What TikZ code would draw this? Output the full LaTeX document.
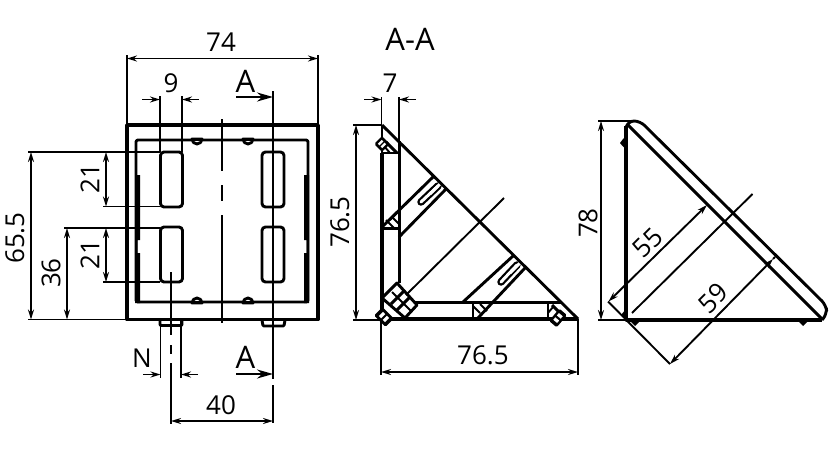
\documentclass[tikz,border=0pt]{standalone}
\usepackage{fontspec}
\setmainfont{Open Sans}
\usetikzlibrary{arrows.meta}
\tikzset{
  x=1pt,y=-1pt,
  thin line/.style={line width=1.9pt,line cap=butt,black},
  med line/.style={line width=2.9pt,line join=round,black},
  heavy line/.style={line width=3.8pt,line join=round,black},
  dimline/.style={thin line,{Stealth[length=10pt,width=6pt]}-{Stealth[length=10pt,width=6pt]}},
  outarrow/.style={thin line,-{Stealth[length=10pt,width=6pt]}},
  secarrow/.style={line width=2pt,-{Stealth[length=16pt,width=9pt]}},
  lbl/.style={inner sep=0pt,font=\fontsize{26}{26}\selectfont},
  biglbl/.style={inner sep=0pt,font=\fontsize{31}{31}\selectfont},
}
\newcommand{\myscrew}[5]{%
  \begin{scope}[shift={(#1,#2)},rotate=#3]
    \fill[black,rounded corners=1.5pt] (-#4,-#5) rectangle (#4,#5);
    \fill[white] (-0.55*#4,-0.5*#5) rectangle (-0.15*#4,0.5*#5);
    \fill[white] (0.15*#4,-0.5*#5) rectangle (0.55*#4,0.5*#5);
  \end{scope}}
\begin{document}
\begin{tikzpicture}
\useasboundingbox (0,0) rectangle (830,472);
\fill[white] (0,0) rectangle (830,472);

% --- front view ---
\draw[heavy line] (127,319.5) -- (127,125) -- (318,125) -- (318,319.5) -- cycle;
\draw[med line,rounded corners=2pt] (136,302) -- (136,140) -- (308,140) -- (308,302) -- cycle;
\foreach \xa in {160.5,262} {
  \foreach \ya in {152,227} {
    \draw[med line,rounded corners=3.5pt] (\xa,\ya) rectangle (\xa+22,\ya+55);
  }
}
% side stiffeners
\fill[black] (135,175) -- (140,175) -- (140,240) -- (137.5,240) -- (137.5,253) -- (140,253) -- (140,303) -- (135,303) -- cycle;
\fill[black] (309,175) -- (304,175) -- (304,240) -- (306.5,240) -- (306.5,253) -- (304,253) -- (304,303) -- (309,303) -- cycle;
% small holes
\foreach \xa in {197,248} {
  \draw[med line,fill=white] (\xa-5,139) arc[start angle=180,end angle=0,x radius=5,y radius=5] -- cycle;
  \draw[med line,fill=white] (\xa-5,303) arc[start angle=180,end angle=360,x radius=5,y radius=5] -- cycle;
}
\draw[med line] (136,140) -- (308,140);
\draw[med line] (136,302) -- (308,302);
% bottom bumps
\draw[med line,rounded corners=1pt] (160,320) -- (160,325.5) -- (182,325.5) -- (182,320);
\draw[med line,rounded corners=1pt] (262,320) -- (263,326) -- (284,326) -- (285,320);
% centre line
\draw[thin line] (222,119) -- (222,171);
\draw[thin line] (222,185) -- (222,201);
\draw[thin line] (222,215) -- (222,323);
% section line
\draw[thin line] (273,91) -- (273,379);
\draw[thin line] (273,385) -- (273,423);
\draw[secarrow] (236,97) -- (273,97);
\draw[secarrow] (236,374) -- (273,374);
\node[biglbl] (lblA1) at (245.5,81) {A};
\node[biglbl] (lblA2) at (245.5,357) {A};

% dimension 74
\draw[thin line] (127,55) -- (127,125);
\draw[thin line] (318,55) -- (318,125);
\draw[dimline] (127,58.5) -- (318,58.5);
\node[lbl] (d74) at (221,42) {74};
% dimension 9
\draw[thin line] (160,96) -- (160,152);
\draw[thin line] (182,96) -- (182,152);
\draw[outarrow] (142,99.5) -- (160,99.5);
\draw[outarrow] (199,99.5) -- (182,99.5);
\node[lbl] (d9) at (171,83) {9};
% dimension 65.5
\draw[thin line] (28,152) -- (160,152);
\draw[thin line] (28,319.5) -- (127,319.5);
\draw[dimline] (31,152) -- (31,319.5);
\node[lbl,rotate=90] (d655) at (15,238) {65.5};
% dimension 36
\draw[thin line] (64,228) -- (160,228);
\draw[dimline] (67,228) -- (67,319.5);
\node[lbl,rotate=90] (d36) at (51,273) {36};
% dimension 21
\draw[thin line] (103,206.5) -- (160,206.5);
\draw[dimline] (106,152) -- (106,206.5);
\node[lbl,rotate=90] (d21a) at (90,179) {21};
\draw[thin line] (103,282) -- (160,282);
\draw[dimline] (106,228) -- (106,282);
\node[lbl,rotate=90] (d21b) at (90,255) {21};
% dimension N, 40
\draw[thin line] (160.5,320) -- (160.5,378);
\draw[thin line] (181,320) -- (181,378);
\draw[thin line] (171,272) -- (171,335);
\draw[thin line] (171,345) -- (171,354);
\draw[thin line] (171,363) -- (171,424);
\draw[outarrow] (143,374.5) -- (160.5,374.5);
\draw[outarrow] (198,374.5) -- (181,374.5);
\node[lbl] (dN) at (142,358) {N};
\draw[dimline] (171,421) -- (273,421);
\node[lbl] (d40) at (221,405) {40};

% --- section view ---
\node[biglbl] (secA) at (410,39) {A-A};
\draw[heavy line] (382,153) -- (382,319) -- (578,319);
\draw[thin line] (382,125) -- (382,153);
\draw[med line,line width=3pt] (399,141) -- (399,283);
\draw[med line,line width=3pt] (408,302) -- (561,302);
\draw[med line] (382,153) -- (399,153);
\draw[med line] (382,228.5) -- (399,228.5);
\draw[med line] (473,302) -- (473,319);
\draw[med line] (548,302) -- (548,319);
% ribs
\draw[med line] (434,176) -- (382,227);
\draw[med line] (446,189) -- (399,237);
\draw[med line] (513,256) -- (463,302);
\draw[med line] (525,268) -- (477,319);
% slots
\draw[black,line width=7.5pt,line cap=round] (421,202) -- (438,186);
\draw[white,line width=3pt,line cap=round] (421,202) -- (438,186);
\draw[white,line width=3pt] (430,194) -- (442,182);
\draw[black,line width=7.5pt,line cap=round] (501,282) -- (517,265);
\draw[white,line width=3pt,line cap=round] (501,282) -- (517,265);
\draw[white,line width=3pt] (510,273) -- (522,261);
\draw[med line] (382,125) -- (578,319);
% rib feet
\draw[thin line] (399,211) -- (390,220);
\draw[thin line] (392,217) -- (399,224);
\draw[thin line] (386,220) -- (394,228);
\draw[thin line] (473,306) -- (480,313);
\draw[thin line] (480,304) -- (487,311);
% corner block
\draw[med line,fill=white] (397,283) -- (382,298) -- (405,318) -- (417,305) -- cycle;
\draw[thin line] (392,292) -- (411,311);
\draw[med line] (391,304) -- (404,291);
\draw[med line] (397,310) -- (410,297);
\draw[thin line] (406,295) -- (504,198);
\draw[heavy line] (382,298) -- (382,319) -- (420,319);
% screw triangles
\draw[med line] (386,142) -- (397,153);
\draw[thin line] (390,153) -- (384,146);
\draw[med line] (552,305) -- (561,314);
\draw[thin line] (548,313) -- (553,307);
\myscrew{382}{144}{-45}{5.5}{5.5}
\myscrew{384}{317}{-45}{8}{6}
\myscrew{558}{318}{50}{8}{5}

% section dimensions
\draw[thin line] (381.5,97) -- (381.5,125);
\draw[thin line] (399,97) -- (399,141);
\draw[outarrow] (364,99.5) -- (381.5,99.5);
\draw[outarrow] (416,99.5) -- (399,99.5);
\node[lbl] (d7) at (390,83) {7};
\draw[thin line] (353,125) -- (382,125);
\draw[thin line] (353,320) -- (382,320);
\draw[dimline] (356,125) -- (356,320);
\node[lbl,rotate=90] (d765v) at (340,222) {76.5};
\draw[thin line] (381,319) -- (381,375);
\draw[thin line] (578,319) -- (578,375);
\draw[dimline] (381,372) -- (578,372);
\node[lbl] (d765h) at (483,355) {76.5};

% --- side view ---
\draw[med line,rounded corners=6pt] (626,128) -- (628,121) -- (640,121) -- (826,305) -- (827,314) -- (822,320);
\draw[med line] (627,124) -- (822,319);
\draw[heavy line] (626,126) -- (626,320) -- (822,320);
% bumps
\fill[black] (623,139) -- (626,136) -- (626,149) -- (622.5,146) -- (620,143) -- cycle;
\fill[black] (626,309) -- (621,315) -- (626,320) -- cycle;
\fill[black] (630,321) -- (640,321) -- (635,326) -- cycle;
\fill[black] (798,321) -- (808,321) -- (803,326) -- cycle;
% dimension 78
\draw[thin line] (598,121) -- (632,121);
\draw[thin line] (598,320) -- (626,320);
\draw[dimline] (601,121) -- (601,320);
\node[lbl,rotate=90] (d78) at (588,223) {78};
% dimension 55, 59
\draw[thin line] (608,301.5) -- (670,364);
\draw[dimline] (608.5,301.5) -- (707,205);
\draw[dimline] (670,364) -- (773,259);
\draw[thin line] (773,259) -- (775,257);
\draw[thin line] (632,313) -- (752.5,194);
\node[lbl,rotate=45] (d55) at (648,243) {55};
\node[lbl,rotate=45] (d59) at (713,298) {59};
\end{tikzpicture}
\end{document}
